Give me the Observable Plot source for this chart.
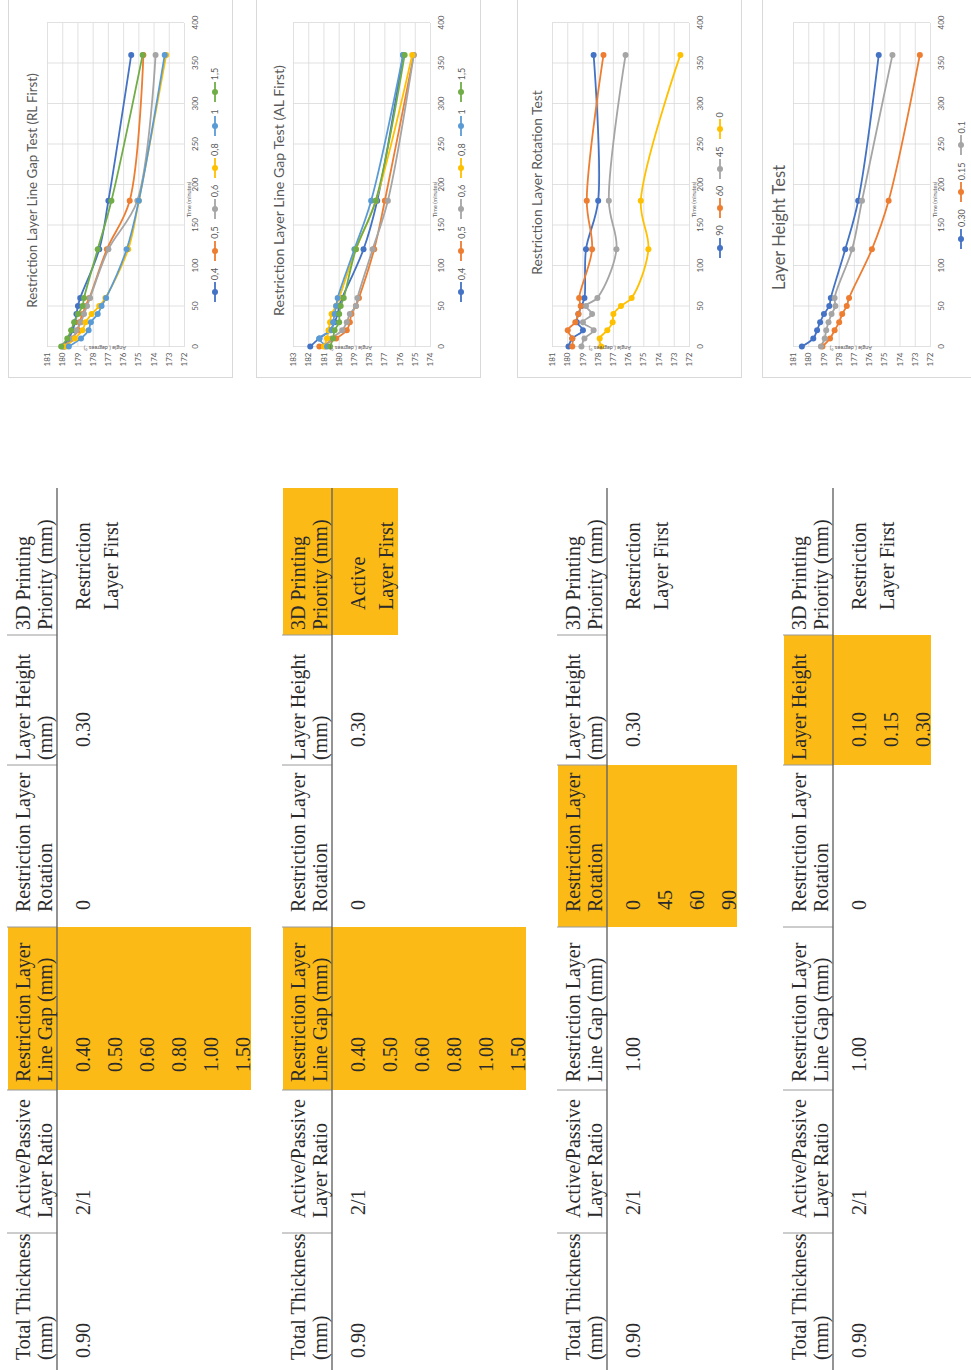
<!DOCTYPE html>
<html><head><meta charset="utf-8">
<script src="https://cdn.jsdelivr.net/npm/d3@7"></script>
<script src="https://cdn.jsdelivr.net/npm/@observablehq/plot@0.6"></script>
<style>
html,body{margin:0;padding:0;width:971px;height:1370px;overflow:hidden;background:#fff}
#rot{position:absolute;left:0;top:0;width:1370px;height:971px;transform-origin:0 0;transform:translate(0px,1370px) rotate(-90deg);}
.abs{position:absolute}
.panel{position:absolute;border:1px solid #d9d9d9;box-sizing:border-box}
.legend{position:absolute;display:flex;justify-content:center;align-items:center;font:9px Lato, sans-serif;color:#595959;gap:7px;white-space:nowrap}
.legend .item{display:flex;align-items:center;gap:2px}
</style></head>
<body><div id="rot"></div>
<script>
// ---------- data ----------
const times = [0, 10, 20, 30, 40, 50, 60, 120, 180, 360];
const timeTicks = [0, 50, 100, 150, 200, 250, 300, 350, 400];
const angleTicksA = [172, 173, 174, 175, 176, 177, 178, 179, 180, 181];
const angleTicksB = [174, 175, 176, 177, 178, 179, 180, 181, 182, 183];

// Restriction Layer Line Gap Test (RL First)
const gapNames = ["0,4", "0,5", "0,6", "0,8", "1", "1,5"];
const rl04 = [180.0, 179.6, 179.35, 179.2, 179.1, 179.0, 178.85, 177.6, 177.0, 175.5];
const rl05 = [179.9, 179.4, 179.0, 178.9, 178.7, 178.5, 178.25, 177.1, 175.6, 174.7];
const rl06 = [179.9, 179.35, 179.1, 178.8, 178.6, 178.4, 178.2, 177.0, 175.1, 173.9];
const rl08 = [179.8, 179.2, 178.7, 178.5, 178.1, 177.6, 177.2, 175.7, 175.0, 173.2];
const rl10 = [179.6, 178.8, 178.3, 178.15, 177.7, 177.45, 177.15, 175.8, 175.0, 173.3];
const rl15 = [180.1, 179.7, 179.45, 179.25, 179.0, 178.7, 178.6, 177.7, 176.8, 174.75];

// Restriction Layer Line Gap Test (AL First)
const al04 = [181.9, 181.3, 180.6, 180.3, 180.1, 180.0, 179.8, 178.4, 177.5, 175.8];
const al05 = [181.3, 180.2, 179.5, 179.3, 179.2, 178.9, 178.7, 177.7, 177.0, 175.1];
const al06 = [180.9, 180.5, 179.8, 179.5, 179.3, 178.9, 178.8, 177.8, 176.8, 175.1];
const al08 = [181.0, 180.8, 180.7, 180.6, 180.5, 180.2, 180.0, 178.9, 177.6, 175.2];
const al10 = [180.8, 181.3, 180.5, 180.4, 180.3, 180.2, 180.1, 179.0, 177.9, 175.8];
const al15 = [180.6, 180.4, 180.3, 180.0, 180.0, 179.9, 179.7, 178.9, 177.6, 175.7];

// Restriction Layer Rotation Test
const rotNames = ["90", "60", "45", "0"];
const rot90 = [179.95, 179.7, 179.0, 179.4, 179.3, 179.1, 178.9, 178.8, 178.0, 178.3];
const rot60 = [179.7, 179.7, 180.0, 179.5, 179.3, 179.15, 179.25, 178.4, 178.75, 177.65];
const rot45 = [179.1, 178.9, 178.3, 179.0, 178.4, 178.8, 178.05, 176.8, 177.3, 176.2];
const rot0 = [177.8, 177.9, 177.4, 177.05, 177.0, 176.5, 175.8, 174.7, 175.2, 172.6];

// Layer Height Test
const heightNames = ["0.30", "0.15", "0.1"];
const h030 = [180.45, 179.7, 179.45, 179.25, 179.0, 178.65, 178.55, 177.6, 176.75, 175.4];
const h015 = [179.1, 178.6, 178.3, 178.0, 177.8, 177.5, 177.35, 175.85, 174.75, 172.7];
const h010 = [179.2, 178.95, 178.85, 178.7, 178.5, 178.25, 178.3, 177.15, 176.5, 174.5];

// Tables
const tableHeaders = [["Total Thickness", "(mm)"], ["Active/Passive", "Layer Ratio"], ["Restriction Layer", "Line Gap (mm)"], ["Restriction Layer", "Rotation"], ["Layer Height", "(mm)"], ["3D Printing", "Priority (mm)"]];
const table4Headers = [["Total Thickness", "(mm)"], ["Active/Passive", "Layer Ratio"], ["Restriction Layer", "Line Gap (mm)"], ["Restriction Layer", "Rotation"], ["Layer Height"], ["3D Printing", "Priority (mm)"]];
const t1Values = [["0.90"], ["2/1"], ["0.40", "0.50", "0.60", "0.80", "1.00", "1.50"], ["0"], ["0.30"], ["Restriction", "Layer First"]];
const t2Values = [["0.90"], ["2/1"], ["0.40", "0.50", "0.60", "0.80", "1.00", "1.50"], ["0"], ["0.30"], ["Active", "Layer First"]];
const t3Values = [["0.90"], ["2/1"], ["1.00"], ["0", "45", "60", "90"], ["0.30"], ["Restriction", "Layer First"]];
const t4Values = [["0.90"], ["2/1"], ["1.00"], ["0"], ["0.10", "0.15", "0.30"], ["Restriction", "Layer First"]];

// ---------- styles / layout ----------
const C = {blue: "#4472C4", orange: "#ED7D31", gray: "#A5A5A5", yellow: "#FFC000", lightBlue: "#5B9BD5", green: "#70AD47"};
const HL = "#FBBA16";
const rot = document.getElementById("rot");

// ---------- tables ----------
const colBounds = [0, 137, 280, 443, 605, 735, 882];
const headX = [10, 152, 288, 458, 610, 740];
const valX = [12, 155, 298, 460, 623, 760];
const tables = [
  {H: 57, headers: tableHeaders, vals: t1Values, hl: [2]},
  {H: 332, headers: tableHeaders, vals: t2Values, hl: [2, 5]},
  {H: 607, headers: tableHeaders, vals: t3Values, hl: [3]},
  {H: 833, headers: table4Headers, vals: t4Values, hl: [4]}
];
const tsvg = d3.select(rot).append("svg").attr("class", "abs").style("left", "0px").style("top", "0px")
  .attr("width", 990).attr("height", 971)
  .style("font-family", "'Liberation Serif', 'Times New Roman', serif").style("font-size", "20px");
const rowStep = 32;
const stepFor = c => (c === 5 ? 28 : rowStep);
for (const tb of tables) {
  const H = tb.H;
  for (const c of tb.hl) {
    const n = tb.vals[c].length;
    const extra = c === 5 ? 38 : 34;
    tsvg.append("rect").attr("x", colBounds[c]).attr("width", colBounds[c + 1] - colBounds[c])
      .attr("y", H - 49).attr("height", 49 + extra + (n - 1) * stepFor(c)).attr("fill", HL);
  }
  for (let c = 1; c < 6; c++) {
    tsvg.append("line").attr("x1", colBounds[c]).attr("x2", colBounds[c]).attr("y1", H - 50).attr("y2", H)
      .attr("stroke", "#9a9a9a").attr("stroke-width", 1);
  }
  tsvg.append("line").attr("x1", 0).attr("x2", colBounds[6]).attr("y1", H).attr("y2", H)
    .attr("stroke", "#666").attr("stroke-width", 1.4);
  tb.headers.forEach((lines, c) => {
    lines.forEach((s, i) => {
      tsvg.append("text").attr("x", headX[c]).attr("y", H - 27 + i * 22).attr("fill", "#2b2b2b").text(s);
    });
  });
  tb.vals.forEach((vals, c) => {
    vals.forEach((s, i) => {
      tsvg.append("text").attr("x", valX[c]).attr("y", H + 33 + i * stepFor(c)).attr("fill", "#2b2b2b").text(s);
    });
  });
}

// ---------- charts ----------
const charts = [
  {title: "Restriction Layer Line Gap Test (RL First)", names: gapNames, values: [rl04, rl05, rl06, rl08, rl10, rl15],
   colors: [C.blue, C.orange, C.gray, C.yellow, C.lightBlue, C.green], yTicks: angleTicksA, plotTop: 46.7, panelTop: 8, panelH: 225, titleSize: 13.3, titleDx: -6},
  {title: "Restriction Layer Line Gap Test (AL First)", names: gapNames, values: [al04, al05, al06, al08, al10, al15],
   colors: [C.blue, C.orange, C.gray, C.yellow, C.lightBlue, C.green], yTicks: angleTicksB, plotTop: 293.3, panelTop: 256, panelH: 225, titleSize: 14.2, titleDx: -6},
  {title: "Restriction Layer Rotation Test", names: rotNames, values: [rot90, rot60, rot45, rot0],
   colors: [C.blue, C.orange, C.gray, C.yellow], yTicks: angleTicksA, plotTop: 551.7, panelTop: 517, panelH: 225, titleSize: 13.8, titleDx: 2},
  {title: "Layer Height Test", names: heightNames, values: [h030, h015, h010],
   colors: [C.blue, C.orange, C.gray], yTicks: angleTicksA, plotTop: 793.3, panelTop: 762, panelH: 220, titleSize: 16.5, titleDx: -43}
];

const W = 378, ML = 31, MR = 23, MT = 38, PH = 137, SVGH = 224;
const panelLeft = 992;

for (const ch of charts) {
  const panel = document.createElement("div");
  panel.className = "panel";
  Object.assign(panel.style, {left: panelLeft + "px", top: ch.panelTop + "px", width: (1370 - panelLeft + 2) + "px", height: ch.panelH + "px"});
  rot.appendChild(panel);

  const data = ch.names.flatMap((name, i) => times.map((t, j) => ({t, a: ch.values[i][j], name})));
  const yDomain = [ch.yTicks[0], ch.yTicks[ch.yTicks.length - 1]];
  const svg = Plot.plot({
    width: W, height: SVGH, marginLeft: ML, marginRight: MR, marginTop: MT, marginBottom: SVGH - MT - PH,
    style: {fontFamily: "Lato, 'Open Sans', sans-serif", color: "#595959", background: "transparent", overflow: "visible"},
    x: {domain: [0, 400]},
    y: {domain: yDomain},
    color: {domain: ch.names, range: ch.colors},
    marks: [
      Plot.gridX(timeTicks, {stroke: "#d9d9d9", strokeOpacity: 1, strokeWidth: 0.8}),
      Plot.gridY(ch.yTicks, {stroke: "#d9d9d9", strokeOpacity: 1, strokeWidth: 0.8}),
      Plot.axisX(timeTicks, {tickSize: 0, tickPadding: 8, fontSize: 8, label: null}),
      Plot.axisY(ch.yTicks, {tickSize: 0, tickPadding: 6, fontSize: 8, label: null}),
      Plot.line(data, {x: "t", y: "a", z: "name", stroke: "name", curve: "catmull-rom", strokeWidth: 1.8}),
      Plot.dot(data, {x: "t", y: "a", fill: "name", r: 3}),
      Plot.text([ch.title], {text: d => d, frameAnchor: "top", dy: -20, dx: ch.titleDx, fontSize: ch.titleSize, fill: "#595959"}),
      Plot.text(["Time (minutes)"], {text: d => d, frameAnchor: "bottom", dy: 6, dx: -15, fontSize: 5.5, fill: "#595959"}),
      Plot.text(["Angle ( degrees °)"], {text: d => d, frameAnchor: "left", rotate: -90, dx: -1, dy: 10, fontSize: 5.5, fill: "#595959"})
    ]
  });
  const wrap = document.createElement("div");
  wrap.className = "abs";
  Object.assign(wrap.style, {left: panelLeft + "px", top: (ch.plotTop - MT) + "px"});
  wrap.appendChild(svg);
  rot.appendChild(wrap);

  const leg = document.createElement("div");
  leg.className = "legend";
  Object.assign(leg.style, {left: (panelLeft + ML) + "px", width: (W - ML - MR) + "px", top: (ch.plotTop + 168 - 6) + "px", height: "12px"});
  ch.names.forEach((name, i) => {
    const item = document.createElement("span");
    item.className = "item";
    const col = ch.colors[i];
    item.innerHTML = `<svg width="20" height="8"><line x1="0" x2="20" y1="4" y2="4" stroke="${col}" stroke-width="1.8"/><circle cx="10" cy="4" r="3" fill="${col}"/></svg><span>${name}</span>`;
    leg.appendChild(item);
  });
  rot.appendChild(leg);
}
</script>
</body></html>
